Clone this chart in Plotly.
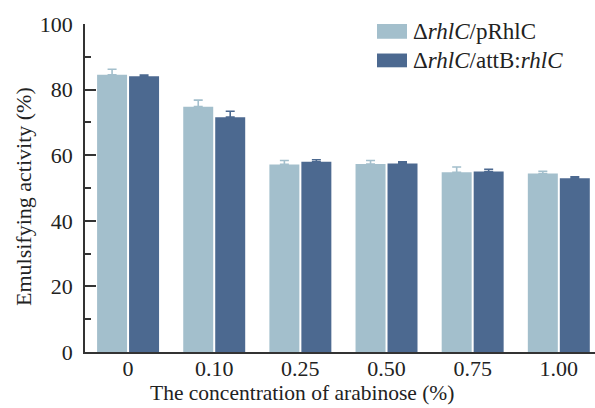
import plotly.graph_objects as go

categories = ["0", "0.10", "0.25", "0.50", "0.75", "1.00"]
series_names = ["Δ<i>rhlC</i>/pRhlC", "Δ<i>rhlC</i>/attB:<i>rhlC</i>"]
prhlc_values = [84.5, 74.8, 57.2, 57.3, 54.8, 54.4]
prhlc_errors = [1.7, 2.0, 1.2, 1.1, 1.6, 0.7]
attb_values = [84.1, 71.6, 58.0, 57.5, 55.0, 53.0]
attb_errors = [0.3, 1.8, 0.6, 0.5, 0.7, 0.4]
y_ticks = [0, 20, 40, 60, 80, 100]
x_title = "The concentration of arabinose (%)"
y_title = "Emulsifying activity (%)"

colors = ["#a3bfcc", "#4c6990"]
FONT = "Liberation Serif"
TXT = "#222"

fig = go.Figure()
for name, vals, errs, c in [
    (series_names[0], prhlc_values, prhlc_errors, colors[0]),
    (series_names[1], attb_values, attb_errors, colors[1]),
]:
    fig.add_trace(go.Bar(
        x=categories, y=vals, name=name, marker=dict(color=c, line=dict(width=0)),
        error_y=dict(type="data", array=errs, arrayminus=[0] * len(errs), symmetric=False,
                     color=c, thickness=1.6, width=4.5),
        showlegend=False,
    ))

# manual legend (swatches + labels)
legend_rows = [(1.0, 0.955), (0.91, 0.868)]
for (y1, y0), name, c in zip(legend_rows, series_names, colors):
    fig.add_shape(type="rect", xref="paper", yref="paper", x0=0.5725, x1=0.6314,
                  y0=y0, y1=y1, fillcolor=c, line=dict(width=0))
    fig.add_annotation(xref="paper", yref="paper", x=0.64, y=(y0 + y1) / 2,
                       text=name, showarrow=False, xanchor="left", yanchor="middle",
                       font=dict(family=FONT, size=23, color=TXT))

# axis titles
fig.add_annotation(xref="paper", yref="paper", x=0.425, y=-0.124, text=x_title,
                   showarrow=False, xanchor="center", yanchor="middle",
                   font=dict(family=FONT, size=21.5, color=TXT))
fig.add_annotation(xref="paper", yref="paper", x=-0.122, y=0.475, text=y_title,
                   showarrow=False, xanchor="center", yanchor="middle", textangle=-90,
                   font=dict(family=FONT, size=22, color=TXT))

fig.update_layout(
    width=595, height=408,
    margin=dict(l=85, r=0, t=24, b=56),
    paper_bgcolor="white", plot_bgcolor="white",
    barmode="group", bargap=0.2575, bargroupgap=0.0625,
    font=dict(family=FONT, size=22, color=TXT),
)
fig.update_xaxes(
    type="category", range=[-0.5, 5.42], automargin=False,
    showline=True, linecolor="#333", linewidth=1.6, ticks="",
    showgrid=False, zeroline=False,
    tickfont=dict(family=FONT, size=22, color=TXT),
    ticklabelstandoff=-4,
)
fig.update_yaxes(
    range=[0, 100], tickvals=y_ticks, ticktext=[str(v) for v in y_ticks], automargin=False,
    showline=True, linecolor="#333", linewidth=1.6,
    ticks="inside", ticklen=11, tickwidth=1.6, tickcolor="#333",
    minor=dict(ticks="inside", ticklen=6, tickwidth=1.6, tickcolor="#333", dtick=10, showgrid=False),
    showgrid=False, zeroline=False,
    tickfont=dict(family=FONT, size=22, color=TXT),
    ticklabelstandoff=6,
)

fig.write_html("out.html", config={"displayModeBar": False},
               post_script="document.body.style.margin='0';document.body.style.overflow='hidden';")
